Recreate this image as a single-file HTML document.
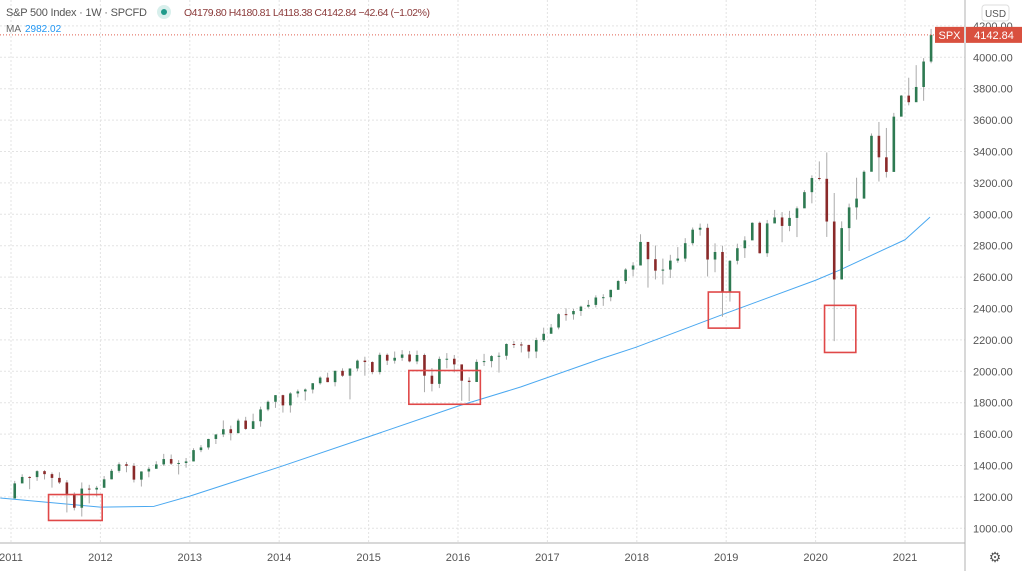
<!DOCTYPE html>
<html><head><meta charset="utf-8">
<style>
html,body{margin:0;padding:0;background:#fff;}
body{width:1024px;height:571px;overflow:hidden;font-family:"Liberation Sans",sans-serif;}
svg text{font-family:"Liberation Sans",sans-serif;}
</style></head>
<body>
<svg id="chart" width="1024" height="571" viewBox="0 0 1024 571">
  <g id="grid"></g>
  <g id="ma"></g>
  <g id="candles"></g>
  <g id="boxes"></g>
  <g id="axes"></g>
  <text x="6" y="16" font-size="11" fill="#555" textLength="141">S&amp;P 500 Index · 1W · SPCFD</text>
  <circle cx="164" cy="12" r="7" fill="#d8efec"/>
  <circle cx="164" cy="12" r="3" fill="#1f9a8a"/>
  <text x="184" y="16" font-size="10.5" fill="#8b3a3a" textLength="246">O4179.80 H4180.81 L4118.38 C4142.84 −42.64 (−1.02%)</text>
  <text x="6" y="32" font-size="10" fill="#666">MA</text>
  <text x="25" y="32" font-size="10" fill="#2196f3">2982.02</text>
</svg>
<script>
const years=[2011,2012,2013,2014,2015,2016,2017,2018,2019,2020,2021];
const yTicks=[1000,1200,1400,1600,1800,2000,2200,2400,2600,2800,3000,3200,3400,3600,3800,4000,4200];
const firstOpen=1190;
const closes=[1286,1327,1326,1364,1345,1321,1292,1219,1131,1253,1247,1258,
1312,1366,1408,1398,1310,1362,1379,1407,1441,1412,1416,1426,
1498,1515,1569,1598,1631,1606,1686,1633,1682,1757,1806,1848,
1783,1859,1872,1884,1924,1960,1931,2003,1972,2018,2068,2059,
1995,2105,2068,2086,2107,2063,2104,1972,1920,2079,2080,2044,
1940,1932,2060,2065,2097,2099,2174,2171,2168,2126,2199,2239,
2279,2364,2363,2384,2412,2423,2470,2472,2519,2575,2648,2674,
2824,2714,2641,2648,2705,2718,2816,2902,2914,2712,2760,2507,
2704,2784,2834,2946,2752,2942,2980,2926,2977,3038,3141,3231,
3226,2954,2585,2912,3044,3100,3271,3500,3363,3270,3622,3756,
3714,3811,3973,4142.84];
const highs=[1302,1344,1332,1370,1371,1356,1357,1307,1229,1292,1277,1270,
1333,1378,1420,1423,1415,1363,1392,1427,1474,1470,1434,1448,
1510,1530,1570,1598,1687,1654,1698,1710,1730,1775,1814,1849,
1851,1867,1884,1891,1925,1968,1991,2005,2019,2018,2075,2093,
2064,2119,2114,2126,2135,2130,2132,2113,2021,2094,2116,2104,
2038,1962,2076,2111,2103,2120,2178,2193,2187,2169,2214,2278,
2301,2371,2401,2398,2418,2454,2484,2491,2519,2582,2657,2695,
2873,2790,2801,2718,2742,2791,2848,2916,2941,2940,2815,2800,
2708,2813,2860,2949,2954,2964,3028,3014,3022,3050,3154,3248,
3337,3394,3136,2955,3068,3233,3280,3515,3588,3550,3646,3760,
3870,3950,3995,4180.81];
const lows=[1262,1294,1249,1302,1311,1259,1282,1101,1114,1075,1159,1203,
1277,1312,1354,1357,1292,1266,1325,1394,1397,1403,1343,1386,
1426,1485,1501,1537,1581,1560,1605,1627,1633,1647,1746,1767,
1737,1737,1834,1814,1859,1915,1931,1904,1964,1821,2001,1972,
1981,1980,2040,2049,2067,2057,2045,1867,1872,1893,2019,1993,
1812,1810,1937,2034,2025,1992,2074,2148,2120,2083,2084,2188,
2245,2267,2322,2329,2353,2405,2407,2417,2446,2520,2557,2605,
2683,2533,2585,2553,2594,2691,2698,2803,2864,2604,2631,2347,
2444,2681,2722,2848,2750,2729,2952,2822,2892,2855,3050,3070,
3215,2856,2192,2727,2766,2966,3115,3279,3209,3234,3279,3624,
3694,3725,3723,3962];
const maTimes=[2010.88,2012.0,2012.6,2013.0,2014.0,2015.0,2016.0,2016.7,2017.6,2018.0,2019.0,2020.0,2020.27,2021.0,2021.28];
const maValues=[1193,1135,1140,1205,1390,1583,1778,1900,2080,2155,2370,2580,2645,2838,2982];
const boxesData=[[2011.42,2012.02,1215,1050],[2015.45,2016.25,2005,1790],[2018.8,2019.15,2505,2275],[2020.1,2020.45,2420,2120]];

const NS='http://www.w3.org/2000/svg';
const X0=11,PXY=89.4,PLOT_R=965,AX_Y=543;
function xs(t){return X0+(t-2011)*PXY;}
function ys(v){return 57.3+(4000-v)*0.157;}
function mk(tag,attrs,parent){const e=document.createElementNS(NS,tag);for(const k in attrs)e.setAttribute(k,attrs[k]);parent.appendChild(e);return e;}
const grid=document.getElementById('grid'),axes=document.getElementById('axes');
yTicks.forEach(v=>{
  const y=ys(v);
  const l=mk('line',{x1:0,x2:PLOT_R,y1:y,y2:y,stroke:'#e3e3e3','stroke-dasharray':'2,2'},grid);
  
  
  const t=mk('text',{x:973,y:y+4,'font-size':11,fill:'#555'},axes);
  t.textContent=v.toFixed(2);
  
  
});
years.forEach(yr=>{
  const x=xs(yr);
  const l=mk('line',{x1:x,x2:x,y1:0,y2:AX_Y,stroke:'#e3e3e3','stroke-dasharray':'2,2'},grid);
  
  
  const t=mk('text',{x:x,y:561,'font-size':11,fill:'#555','text-anchor':'middle'},axes);
  t.textContent=yr;
  
  
});
let a=mk('line',{x1:PLOT_R,x2:PLOT_R,y1:0,y2:571,stroke:'#b0b0b0'},axes);


a=mk('line',{x1:0,x2:PLOT_R,y1:AX_Y,y2:AX_Y,stroke:'#b0b0b0'},axes);


const ma=document.getElementById('ma');
const p=mk('polyline',{points:maTimes.map((t,i)=>xs(t)+','+ys(maValues[i])).join(' '),fill:'none',stroke:'#4aa8f0','stroke-width':1,'stroke-linejoin':'round'},ma);


const cg=document.getElementById('candles');
closes.forEach((c,i)=>{
  const o=i===0?firstOpen:closes[i-1];
  const x=xs(2011+(i+0.5)/12);
  const up=c>=o;
  const w=mk('line',{x1:x,x2:x,y1:ys(highs[i]),y2:ys(lows[i]),stroke:'#aaa','stroke-width':1},cg);
  
  
  const top=ys(Math.max(o,c)),bot=ys(Math.min(o,c));
  const r=mk('rect',{x:x-1.3,y:top,width:2.6,height:Math.max(1,bot-top),fill:up?'#2e7a52':'#8a2a2a'},cg);
  
  
});
const bg=document.getElementById('boxes');
boxesData.forEach(b=>{
  const r=mk('rect',{x:xs(b[0]),y:ys(b[2]),width:xs(b[1])-xs(b[0]),height:ys(b[3])-ys(b[2]),fill:'none',stroke:'#e04848','stroke-width':1.6},bg);
  
  
});
const last=closes[closes.length-1],ly=ys(last);
a=mk('line',{x1:0,x2:PLOT_R,y1:ly,y2:ly,stroke:'#e06050','stroke-dasharray':'1,2'},axes);


a=mk('rect',{x:935,y:ly-8,width:29,height:16,fill:'#d9503f'},axes);


a=mk('text',{x:949.5,y:ly+4,'font-size':11,fill:'#fff','text-anchor':'middle'},axes);a.textContent='SPX';


a=mk('rect',{x:966,y:ly-8,width:56,height:16,fill:'#d9503f'},axes);


a=mk('text',{x:994,y:ly+4,'font-size':11,fill:'#fff','text-anchor':'middle'},axes);a.textContent=last.toFixed(2);


a=mk('rect',{x:982,y:5,width:27,height:16,rx:3,fill:'#fff',stroke:'#ddd'},axes);


a=mk('text',{x:995.5,y:17,'font-size':10,fill:'#555','text-anchor':'middle'},axes);a.textContent='USD';


a=mk('text',{x:995,y:562,'font-size':14,fill:'#555','text-anchor':'middle'},axes);a.textContent='⚙';


</script>
</body></html>
